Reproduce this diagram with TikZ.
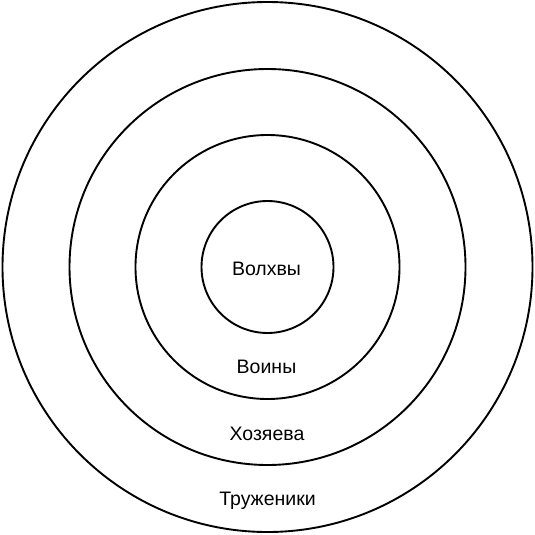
\documentclass[tikz,border=0pt]{standalone}
\usepackage{fontspec}
\setmainfont{Liberation Sans}
\begin{document}
\begin{tikzpicture}[x=1pt,y=-1pt,
  ring/.style={line width=1.9pt},
  caste/.style={font=\fontsize{19.5}{22}\selectfont,inner sep=0pt}]
  \useasboundingbox (0,0) rectangle (535,535);
  \coordinate (c) at (267.5,267);
  \draw [ring] (c) circle (265);
  \draw [ring] (c) circle (198);
  \draw [ring] (c) circle (132);
  \draw [ring] (c) circle (66);
  \node [caste] (volkhvy) at (266.5,268.5) {Волхвы};
  \node [caste] (voiny) at (266.5,367) {Воины};
  \node [caste] (khozyaeva) at (267,434) {Хозяева};
  \node [caste] (truzheniki) at (267.5,501) {Труженики};
\end{tikzpicture}
\end{document}
